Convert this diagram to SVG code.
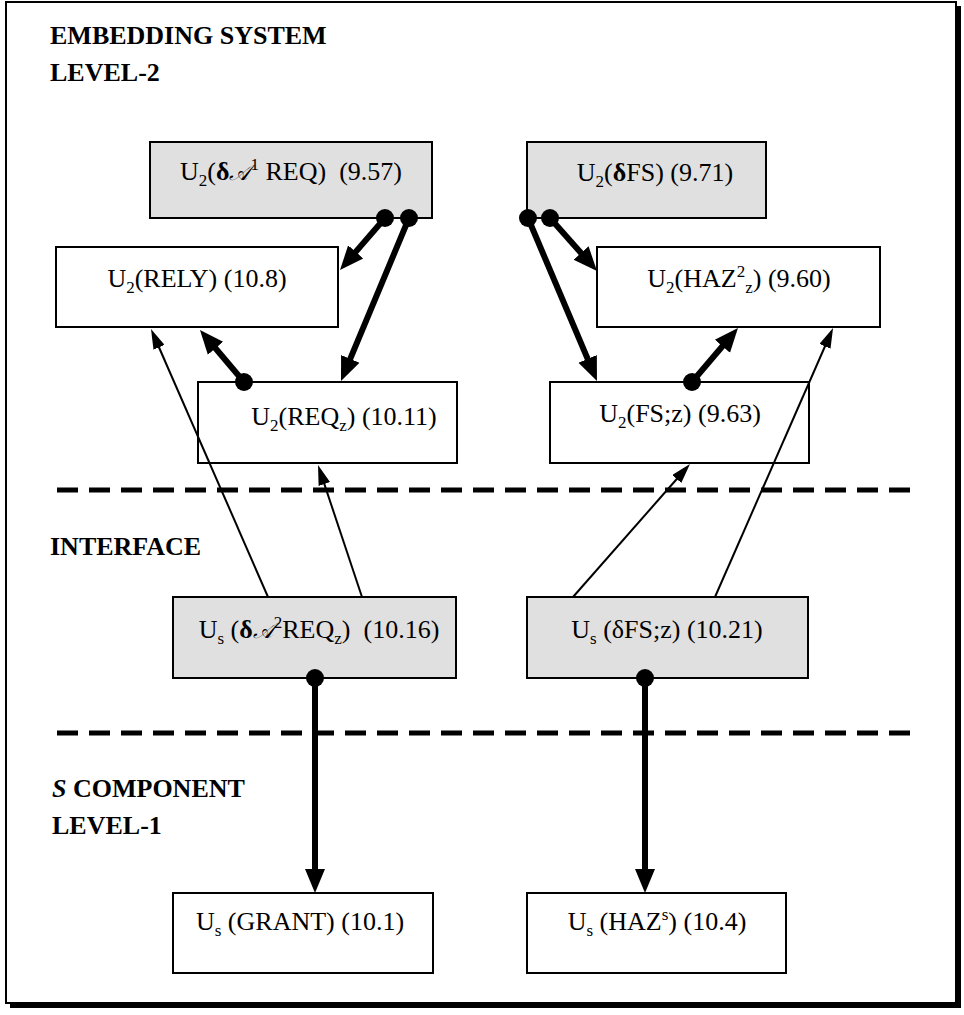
<svg xmlns="http://www.w3.org/2000/svg" width="964" height="1015" viewBox="0 0 964 1015">
<style>
.frame{fill:#fff;stroke:#000;stroke-width:2}
.box{fill:#fff;stroke:#000;stroke-width:2}
.gray{fill:#e0e0e0}
.lbl{font-family:"Liberation Serif","Times New Roman",serif;font-size:26px;text-anchor:middle;fill:#000;white-space:pre}
.hd{font-family:"Liberation Serif","Times New Roman",serif;font-size:26px;font-weight:bold;fill:#000}
.sub{font-size:17px}
.b{font-weight:bold}
.scr{font-family:"DejaVu Serif","DejaVu Sans","Noto Sans",serif;font-style:italic;font-size:22px}
.thick{stroke:#000;stroke-width:6;fill:none;marker-end:url(#ah)}
.thin{stroke:#000;stroke-width:2;fill:none;marker-end:url(#ahs)}
.dash{stroke:#000;stroke-width:5;stroke-dasharray:21 11}
.dot{fill:#000}
</style>
<defs>
<marker id="ah" markerUnits="userSpaceOnUse" viewBox="0 0 24 22" markerWidth="24" markerHeight="22" refX="2" refY="11" orient="auto"><path d="M0,1 L24,11 L0,21 z" fill="#000"/></marker>
<marker id="ahs" markerUnits="userSpaceOnUse" viewBox="0 0 20 12" markerWidth="20" markerHeight="12" refX="2" refY="6" orient="auto"><path d="M0,0 L20,6 L0,12 z" fill="#000"/></marker>
</defs>

<g id="frame">
<line x1="10" y1="1006" x2="961" y2="1006" stroke="#000" stroke-width="4"/>
<line x1="959" y1="6" x2="959" y2="1008" stroke="#000" stroke-width="4"/>
<rect class="frame" x="6" y="2" width="950" height="1001"/>
</g>

<g id="headings">
<text class="hd" x="50" y="44">EMBEDDING SYSTEM</text>
<text class="hd" x="50" y="81">LEVEL-2</text>
<text class="hd" x="50" y="555">INTERFACE</text>
<text class="hd" x="52" y="797"><tspan font-style="italic">S</tspan> COMPONENT</text>
<text class="hd" x="52" y="834">LEVEL-1</text>
</g>

<g id="dividers">
<line class="dash" x1="57" y1="490" x2="920" y2="490"/>
<line class="dash" x1="57" y1="733" x2="920" y2="733"/>
</g>

<g id="n-dA1REQ">
<rect class="box gray" x="150" y="142" width="282" height="76"/>
<text class="lbl" x="291" y="180">U<tspan class="sub" dy="6">2</tspan><tspan dy="-6">(</tspan><tspan class="b">δ</tspan><tspan class="scr">𝒜</tspan><tspan class="sub" dy="-10">1</tspan><tspan dy="10"> REQ)  (9.57)</tspan></text>
</g>
<g id="n-dFS">
<rect class="box gray" x="527" y="142" width="239" height="76"/>
<text class="lbl" x="655" y="181">U<tspan class="sub" dy="6">2</tspan><tspan dy="-6">(</tspan><tspan class="b">δ</tspan>FS) (9.71)</text>
</g>
<g id="n-RELY">
<rect class="box" x="56" y="247" width="282" height="80"/>
<text class="lbl" x="197" y="287">U<tspan class="sub" dy="6">2</tspan><tspan dy="-6">(RELY) (10.8)</tspan></text>
</g>
<g id="n-HAZ2z">
<rect class="box" x="597" y="247" width="283" height="80"/>
<text class="lbl" x="739" y="287">U<tspan class="sub" dy="6">2</tspan><tspan dy="-6">(HAZ</tspan><tspan class="sub" dy="-10">2</tspan><tspan class="sub" dy="16">z</tspan><tspan dy="-6">) (9.60)</tspan></text>
</g>
<g id="n-REQz">
<rect class="box" x="198" y="382" width="259" height="81"/>
<text class="lbl" x="344" y="425">U<tspan class="sub" dy="6">2</tspan><tspan dy="-6">(REQ</tspan><tspan class="sub" dy="6">z</tspan><tspan dy="-6">) (10.11)</tspan></text>
</g>
<g id="n-FSz">
<rect class="box" x="550" y="382" width="259" height="81"/>
<text class="lbl" x="680" y="422">U<tspan class="sub" dy="6">2</tspan><tspan dy="-6">(FS;z) (9.63)</tspan></text>
</g>
<g id="n-dA2REQz">
<rect class="box gray" x="173" y="597" width="283" height="81"/>
<text class="lbl" x="319" y="638">U<tspan class="sub" dy="6">s</tspan><tspan dy="-6"> (</tspan><tspan class="b">δ</tspan><tspan class="scr">𝒜</tspan><tspan class="sub" dy="-10">2</tspan><tspan dy="10">REQ</tspan><tspan class="sub" dy="6">z</tspan><tspan dy="-6">)  (10.16)</tspan></text>
</g>
<g id="n-dFSz">
<rect class="box gray" x="527" y="597" width="281" height="81"/>
<text class="lbl" x="667" y="638">U<tspan class="sub" dy="6">s</tspan><tspan dy="-6"> (δFS;z) (10.21)</tspan></text>
</g>
<g id="n-GRANT">
<rect class="box" x="173" y="893" width="260" height="80"/>
<text class="lbl" x="300" y="930">U<tspan class="sub" dy="6">s</tspan><tspan dy="-6"> (GRANT) (10.1)</tspan></text>
</g>
<g id="n-HAZs">
<rect class="box" x="527" y="893" width="259" height="80"/>
<text class="lbl" x="657" y="930">U<tspan class="sub" dy="6">s</tspan><tspan dy="-6"> (HAZ</tspan><tspan class="sub" dy="-10">s</tspan><tspan dy="10">) (10.4)</tspan></text>
</g>

<g id="connectors">
<line class="thick" x1="385" y1="218" x2="354.4" y2="253.4"/>
<line class="thick" x1="409" y1="218" x2="349.5" y2="360.7"/>
<line class="thick" x1="244" y1="382" x2="214.2" y2="346.8"/>
<line class="thick" x1="528" y1="218" x2="588.4" y2="360.7"/>
<line class="thick" x1="550" y1="218" x2="582.4" y2="254.5"/>
<line class="thick" x1="692" y1="382" x2="723.7" y2="344.8"/>
<line class="thick" x1="315" y1="678" x2="315" y2="871"/>
<line class="thick" x1="645" y1="678" x2="645" y2="871"/>
<line class="thin" x1="268" y1="597" x2="158.2" y2="345.5"/>
<line class="thin" x1="362" y1="597" x2="323.7" y2="482.1"/>
<line class="thin" x1="573" y1="597" x2="678.1" y2="477.5"/>
<line class="thin" x1="715" y1="597" x2="825.8" y2="344.5"/>
<circle class="dot" cx="385" cy="218" r="9"/>
<circle class="dot" cx="409" cy="218" r="9"/>
<circle class="dot" cx="244" cy="382" r="9"/>
<circle class="dot" cx="528" cy="218" r="9"/>
<circle class="dot" cx="550" cy="218" r="9"/>
<circle class="dot" cx="692" cy="382" r="9"/>
<circle class="dot" cx="315" cy="678" r="9"/>
<circle class="dot" cx="645" cy="678" r="9"/>
</g>
</svg>
